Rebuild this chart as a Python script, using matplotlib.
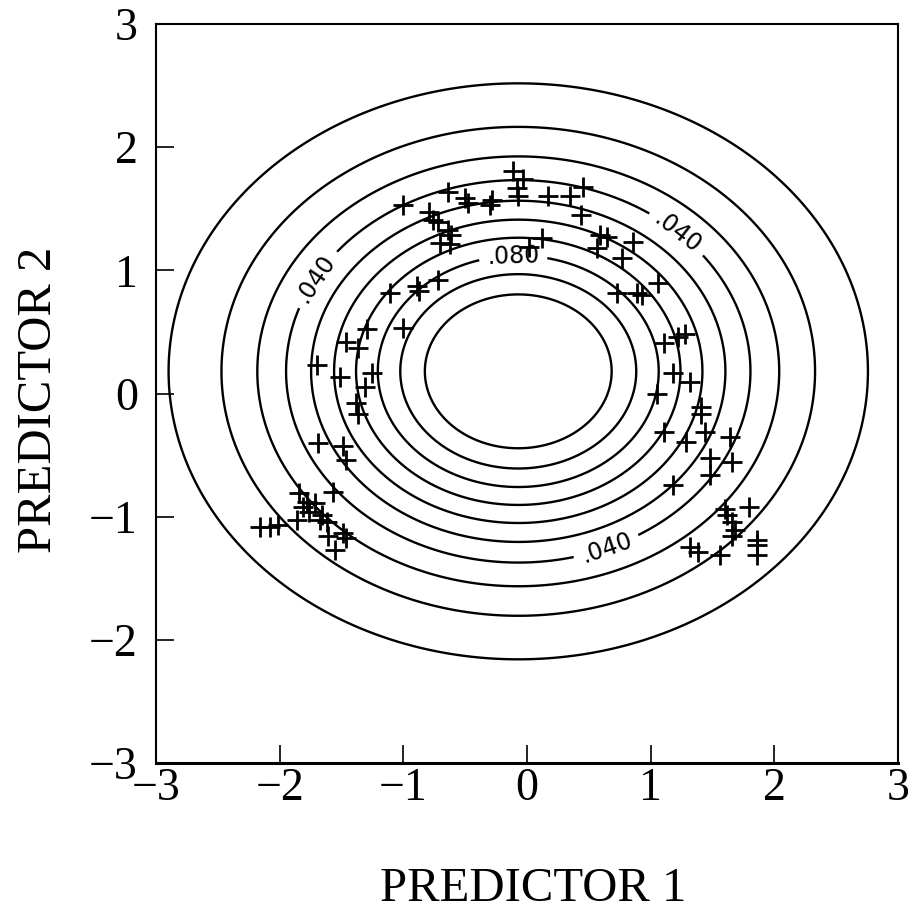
import numpy as np
import matplotlib
matplotlib.use('Agg')
import matplotlib.pyplot as plt

# fitted normal density (mean, sd) and contour levels
mean_1 = -0.07
mean_2 = 0.18
sd_1 = 1.27
sd_2 = 1.05
levels = [0.01, 0.02, 0.03, 0.04, 0.05, 0.06, 0.07, 0.08, 0.09, 0.10]

# observed points
pred_1 = [-0.11, -0.03, -0.08, -0.07, -0.64, -1.00, -0.79, -0.76, -0.72, -0.64,
          -0.61, -0.70, -0.62, -0.50, -0.48, -0.28, -0.30, 0.17, 0.35, 0.45,
          0.44, 0.59, 0.65, 0.57, 0.02, 0.12, -1.11, -0.89, -0.87, -0.72,
          0.73, 0.86, 0.77, 0.89, 1.06, 0.93, -1.00, -1.29, -1.46, -1.37,
          -1.70, -1.51, -1.25, -1.31, -1.38, -1.37, -1.69, -1.49, -1.46, -1.57,
          -1.84, -1.78, -1.71, -1.81, -1.76, -1.66, -1.67, -1.86, -1.62, -2.16,
          -2.08, -2.01, -1.61, -1.49, -1.46, -1.55, 1.22, 1.28, 1.11, 1.18,
          1.32, 1.05, 1.41, 1.41, 1.44, 1.11, 1.64, 1.29, 1.48, 1.66,
          1.48, 1.18, 1.60, 1.62, 1.66, 1.68, 1.66, 1.80, 1.86, 1.86,
          1.86, 1.32, 1.38, 1.56]
pred_2 = [1.81, 1.74, 1.67, 1.60, 1.64, 1.53, 1.47, 1.41, 1.39, 1.33,
          1.29, 1.22, 1.21, 1.59, 1.55, 1.57, 1.53, 1.60, 1.60, 1.68,
          1.45, 1.29, 1.27, 1.18, 1.19, 1.26, 0.82, 0.87, 0.83, 0.92,
          0.82, 1.23, 1.10, 0.82, 0.90, 0.80, 0.53, 0.52, 0.42, 0.37,
          0.23, 0.13, 0.17, 0.05, -0.08, -0.17, -0.40, -0.43, -0.54, -0.80,
          -0.81, -0.88, -0.89, -0.92, -0.96, -0.99, -1.03, -1.03, -1.04, -1.08,
          -1.08, -1.07, -1.16, -1.13, -1.17, -1.27, 0.46, 0.48, 0.41, 0.17,
          0.09, 0.00, -0.11, -0.17, -0.31, -0.31, -0.35, -0.39, -0.52, -0.56,
          -0.66, -0.74, -0.94, -0.99, -1.04, -1.11, -1.16, -0.92, -1.19, -1.23,
          -1.31, -1.25, -1.29, -1.31]

tick_vals = [-3, -2, -1, 0, 1, 2, 3]
# where the contour labels sit
label_pos = {0.04: [(-1.73, 0.95), (1.16, 1.23), (0.65, -1.27)],
             0.08: [(-0.11, 1.07)]}

serif = 'Liberation Serif'

fig = plt.figure(figsize=(9.08, 9.13), dpi=100)
ax = fig.add_axes([0.1718, 0.1643, 0.817, 0.8094])

g1, g2 = np.meshgrid(np.linspace(-3, 3, 500), np.linspace(-3, 3, 500))
dens = np.exp(-0.5 * (((g1 - mean_1) / sd_1) ** 2 + ((g2 - mean_2) / sd_2) ** 2)) / (2 * np.pi * sd_1 * sd_2)

fmt = lambda v: ('%.3f' % v).lstrip('0')
plain = [l for l in levels if l not in label_pos]
ax.contour(g1, g2, dens, levels=plain, colors='black', linewidths=1.7)
for lev, pos in label_pos.items():
    cs = ax.contour(g1, g2, dens, levels=[lev], colors='black', linewidths=1.7)
    ax.clabel(cs, manual=pos, fmt=fmt, fontsize=17, inline_spacing=8)

ax.plot(pred_1, pred_2, '+', color='black', markersize=14, markeredgewidth=2.0)

ax.set_xlim(-3, 3)
ax.set_ylim(-3, 3)
ax.set_xticks(tick_vals)
ax.set_yticks(tick_vals)
ax.tick_params(direction='in', length=13, width=1.2, top=False, right=False)
ax.tick_params(axis='x', pad=3)
ax.tick_params(axis='y', pad=13)
for lab in ax.get_xticklabels() + ax.get_yticklabels():
    lab.set_fontfamily(serif)
    lab.set_fontsize(33)
for sp in ax.spines.values():
    sp.set_linewidth(1.5)
ax.spines['bottom'].set_linewidth(2.2)

ax.set_xlabel('PREDICTOR 1', fontfamily=serif, fontsize=35)
ax.set_ylabel('PREDICTOR 2', fontfamily=serif, fontsize=35)
ax.xaxis.set_label_coords(0.509, -0.141)
ax.yaxis.set_label_coords(-0.128, 0.491)

plt.savefig('out.png', dpi=100)
